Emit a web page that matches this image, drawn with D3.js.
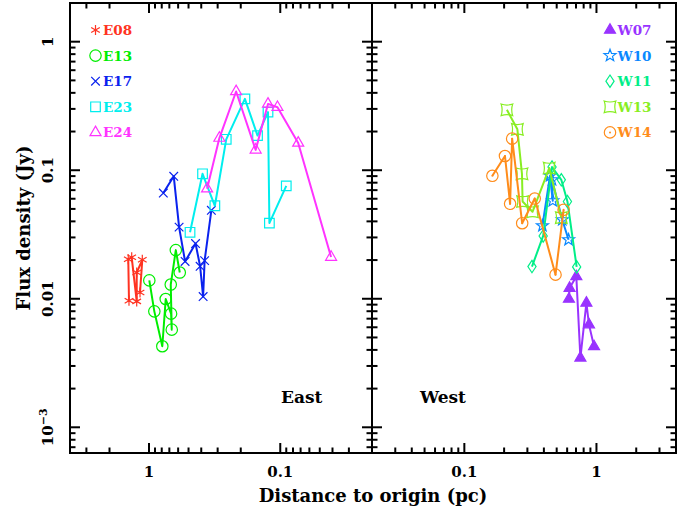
<!DOCTYPE html>
<html>
<head>
<meta charset="utf-8">
<script src="https://cdn.jsdelivr.net/npm/d3@7"></script>
<style>
  body { margin: 0; background: #fff; }
  svg { display: block; }
  text { font-family: "DejaVu Serif", "Liberation Serif", serif; font-weight: bold; }
</style>
</head>
<body>
<svg id="chart" width="691" height="513"></svg>
<script>
// Knot distances from the origin (pc) and flux densities (Jy), east side
const e08Dist = [1.421, 1.439, 1.355, 1.241, 1.241, 1.125, 1.171];
const e08Flux = [0.00966, 0.0203, 0.0210, 0.00954, 0.0160, 0.0201, 0.0112];

const e13Dist = [0.995, 0.911, 0.792, 0.746, 0.679, 0.671, 0.683, 0.625, 0.583];
const e13Flux = [0.0139, 0.00798, 0.00427, 0.00996, 0.00766, 0.00575, 0.0129, 0.0239, 0.0160];

const e17Dist = [0.778, 0.648, 0.590, 0.531, 0.442, 0.408, 0.387, 0.377, 0.335];
const e17Flux = [0.0664, 0.0897, 0.0361, 0.0195, 0.0269, 0.0179, 0.0104, 0.0198, 0.0488];

const e23Dist = [0.487, 0.391, 0.315, 0.258, 0.186, 0.149, 0.124, 0.121, 0.090];
const e23Flux = [0.0329, 0.0938, 0.0529, 0.174, 0.359, 0.186, 0.283, 0.0388, 0.0756];

const e24Dist = [0.361, 0.291, 0.217, 0.154, 0.124, 0.105, 0.073, 0.041];
const e24Flux = [0.0719, 0.178, 0.410, 0.144, 0.328, 0.309, 0.163, 0.0211];

// West side
const w07Dist = [0.619, 0.626, 0.704, 0.756, 0.839, 0.878, 0.959];
const w07Flux = [0.00996, 0.0121, 0.0149, 0.00347, 0.00928, 0.00629, 0.00425];

const w10Dist = [0.390, 0.445, 0.467, 0.461, 0.551, 0.615];
const w10Flux = [0.0370, 0.0905, 0.0578, 0.0842, 0.0412, 0.0288];

const w11Dist = [0.325, 0.395, 0.461, 0.542, 0.603, 0.708];
const w11Flux = [0.0178, 0.0308, 0.106, 0.0842, 0.0571, 0.0177];

const w13Dist = [0.210, 0.252, 0.273, 0.276, 0.328, 0.439, 0.542];
const w13Flux = [0.295, 0.208, 0.0938, 0.0571, 0.0475, 0.104, 0.0427];

const w14Dist = [0.163, 0.203, 0.222, 0.230, 0.274, 0.341, 0.490, 0.564];
const w14Flux = [0.0905, 0.129, 0.0548, 0.176, 0.0387, 0.0602, 0.0154, 0.0492];

// Axis tick labels
const xTickValues = [1, 0.1];
const xTickLabels = ["1", "0.1"];
const yTickValues = [1, 0.1, 0.01, 0.001];
const yTickLabels = ["1", "0.1", "0.01", "10-3"];

const xTitle = "Distance to origin (pc)";
const yTitle = "Flux density (Jy)";

const eastSeries = [
  { name: "E08", dist: e08Dist, flux: e08Flux, color: "#ff3322", marker: "asterisk" },
  { name: "E13", dist: e13Dist, flux: e13Flux, color: "#00ee00", marker: "circle" },
  { name: "E17", dist: e17Dist, flux: e17Flux, color: "#0a22ee", marker: "cross" },
  { name: "E23", dist: e23Dist, flux: e23Flux, color: "#00eeee", marker: "square" },
  { name: "E24", dist: e24Dist, flux: e24Flux, color: "#ff33ff", marker: "triangle" }
];
const westSeries = [
  { name: "W07", dist: w07Dist, flux: w07Flux, color: "#9933ff", marker: "filledTriangle" },
  { name: "W10", dist: w10Dist, flux: w10Flux, color: "#0a88ff", marker: "star" },
  { name: "W11", dist: w11Dist, flux: w11Flux, color: "#00ee88", marker: "diamond" },
  { name: "W13", dist: w13Dist, flux: w13Flux, color: "#88ee22", marker: "concave" },
  { name: "W14", dist: w14Dist, flux: w14Flux, color: "#ff8c1a", marker: "circleDot" }
];

const svg = d3.select("#chart");
const yTop = 3, yBottom = 453;

const y = d3.scaleLog().domain([Math.pow(10, -3.2), 2]).range([yBottom, yTop]);

const panels = [
  { x0: 70, x1: 372, domain: [4, 0.02], series: eastSeries, title: "East", titleX: 281, legendX: 95.5, showY: true },
  { x0: 372, x1: 676, domain: [0.02, 4], series: westSeries, title: "West", titleX: 420, legendX: 610, showY: false }
];

function starPath(ro, ri) {
  const pts = [];
  for (let i = 0; i < 10; i++) {
    const a = -Math.PI / 2 + i * Math.PI / 5;
    const r = i % 2 === 0 ? ro : ri;
    pts.push([r * Math.cos(a), r * Math.sin(a)]);
  }
  return "M" + pts.map(p => p[0].toFixed(2) + "," + p[1].toFixed(2)).join("L") + "Z";
}

function markerPath(kind) {
  switch (kind) {
    case "asterisk": return "M0,-5V5M-4.33,-2.5L4.33,2.5M-4.33,2.5L4.33,-2.5";
    case "circle": return "M5.7,0A5.7,5.7 0 1,1 -5.7,0A5.7,5.7 0 1,1 5.7,0Z";
    case "circleDot": return "M5.7,0A5.7,5.7 0 1,1 -5.7,0A5.7,5.7 0 1,1 5.7,0Z";
    case "cross": return "M-4.3,-4.3L4.3,4.3M-4.3,4.3L4.3,-4.3";
    case "square": return "M-4.8,-4.8H4.8V4.8H-4.8Z";
    case "triangle":
    case "filledTriangle": return "M0,-6.3L5.5,3.2L-5.5,3.2Z";
    case "star": return starPath(6.3, 2.6);
    case "diamond": return "M0,-6.2L4.1,0L0,6.2L-4.1,0Z";
    case "concave": {
      const s = 5.8, c = 3.8;
      return `M${-s},${-s}Q0,${-c} ${s},${-s}Q${c},0 ${s},${s}Q0,${c} ${-s},${s}Q${-c},0 ${-s},${-s}Z`;
    }
  }
  return "";
}

function drawMarker(g, kind, color, cx, cy) {
  const filled = kind === "filledTriangle";
  g.append("path")
    .attr("d", markerPath(kind))
    .attr("transform", `translate(${cx},${cy})`)
    .attr("fill", filled ? color : "none")
    .attr("stroke", color)
    .attr("stroke-width", 1.2);
  if (kind === "circleDot") {
    g.append("circle").attr("cx", cx).attr("cy", cy).attr("r", 1).attr("fill", color);
  }
}

const yTicks = y.ticks();

panels.forEach(p => {
  const x = d3.scaleLog().domain(p.domain).range([p.x0, p.x1]);
  const g = svg.append("g");

  // data lines and markers
  p.series.forEach(s => {
    const pts = s.dist.map((d, i) => [x(d), y(s.flux[i])]);
    g.append("path")
      .attr("d", d3.line()(pts))
      .attr("fill", "none")
      .attr("stroke", s.color)
      .attr("stroke-width", 2)
      .attr("stroke-linejoin", "round");
    pts.forEach(pt => drawMarker(g, s.marker, s.color, pt[0], pt[1]));
  });

  // legend
  p.series.forEach((s, i) => {
    const base = 35 + i * 25.6;
    drawMarker(g, s.marker, s.color, p.legendX, base - 5);
    g.append("text")
      .attr("x", p.legendX + 7.5)
      .attr("y", base)
      .attr("font-size", 13.5)
      .attr("fill", s.color)
      .text(s.name);
  });

  // frame
  g.append("rect")
    .attr("x", p.x0).attr("y", yTop)
    .attr("width", p.x1 - p.x0).attr("height", yBottom - yTop)
    .attr("fill", "none").attr("stroke", "#000").attr("stroke-width", 2);

  // x ticks on bottom and top edges
  const isMajor = v => Math.abs(Math.log10(v) - Math.round(Math.log10(v))) < 1e-6;
  x.ticks().forEach(v => {
    const px = x(v);
    if (px <= Math.min(p.x0, p.x1) + 1 || px >= Math.max(p.x0, p.x1) - 1) return;
    const len = isMajor(v) ? 10 : 5.5;
    g.append("line").attr("x1", px).attr("x2", px).attr("y1", yBottom).attr("y2", yBottom - len)
      .attr("stroke", "#000").attr("stroke-width", 2);
    g.append("line").attr("x1", px).attr("x2", px).attr("y1", yTop).attr("y2", yTop + len)
      .attr("stroke", "#000").attr("stroke-width", 2);
  });

  // y ticks on left and right edges
  yTicks.forEach(v => {
    const py = y(v);
    if (py <= yTop + 1 || py >= yBottom - 1) return;
    const len = isMajor(v) ? 10 : 5.5;
    g.append("line").attr("x1", p.x0).attr("x2", p.x0 + len).attr("y1", py).attr("y2", py)
      .attr("stroke", "#000").attr("stroke-width", 2);
    g.append("line").attr("x1", p.x1).attr("x2", p.x1 - len).attr("y1", py).attr("y2", py)
      .attr("stroke", "#000").attr("stroke-width", 2);
  });

  // x tick labels
  xTickValues.forEach((v, i) => {
    g.append("text")
      .attr("x", x(v)).attr("y", 477)
      .attr("text-anchor", "middle")
      .attr("font-size", 15)
      .text(xTickLabels[i]);
  });

  // panel name
  g.append("text")
    .attr("x", p.titleX).attr("y", 403)
    .attr("font-size", 17)
    .text(p.title);

  // y tick labels (left panel only)
  if (p.showY) {
    yTickValues.forEach((v, i) => {
      const t = g.append("text")
        .attr("transform", `translate(53,${y(v)}) rotate(-90)`)
        .attr("text-anchor", "middle")
        .attr("font-size", 15);
      const lab = yTickLabels[i];
      if (lab.indexOf("-") > 0) {
        const [b, e] = lab.split("-");
        t.append("tspan").text(b);
        t.append("tspan").attr("dy", -6).attr("font-size", 11).text("\u2212" + e);
      } else {
        t.text(lab);
      }
    });
  }
});

// axis titles
svg.append("text")
  .attr("x", 373).attr("y", 501.5)
  .attr("text-anchor", "middle")
  .attr("font-size", 18)
  .text(xTitle);

svg.append("text")
  .attr("transform", `translate(30,${(yTop + yBottom) / 2}) rotate(-90)`)
  .attr("text-anchor", "middle")
  .attr("font-size", 18)
  .text(yTitle);
</script>
</body>
</html>
